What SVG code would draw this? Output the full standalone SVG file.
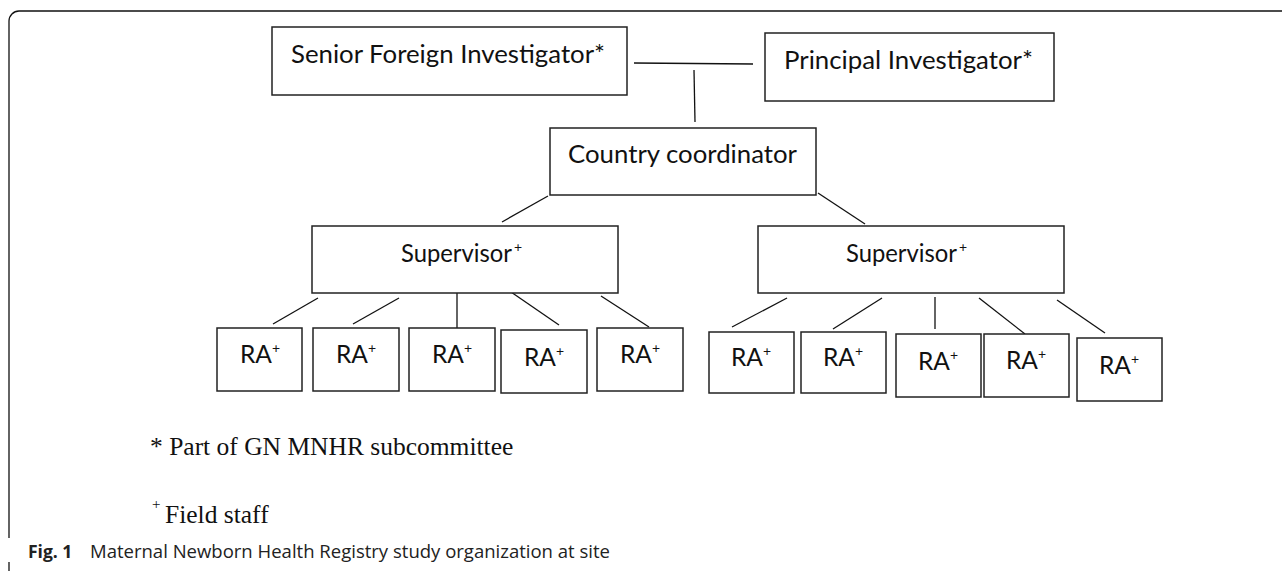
<svg xmlns="http://www.w3.org/2000/svg" width="1282" height="571" viewBox="0 0 1282 571">
<style>
.box{fill:#fff;stroke:#222;stroke-width:1.5}
.lbl{font-family:Lato,"Open Sans","Liberation Sans",sans-serif;font-size:24.5px;fill:#111}
.sup{font-family:Lato,"Open Sans","Liberation Sans",sans-serif;font-size:14px;fill:#111}
.ln{stroke:#111;stroke-width:1.3;fill:none}
.fn{font-family:"Liberation Serif","Times New Roman",serif;font-size:25.5px;fill:#111}
.cap{font-family:"Open Sans","Noto Sans","Liberation Sans",sans-serif;font-size:17.5px;fill:#222}
</style>
<rect width="1282" height="571" fill="#fff"/>
<g id="frame" class="ln" stroke-width="1.5">
<path d="M9 538 V21 A10 10 0 0 1 19 11 H1282"/>
<path d="M9 562 V571"/>
</g>
<g id="connectors" class="ln">
<line x1="634" y1="63" x2="753" y2="64"/>
<line x1="694" y1="70" x2="695" y2="122"/>
<line x1="548" y1="196" x2="502" y2="222"/>
<line x1="818" y1="193" x2="865" y2="224"/>
<line x1="318" y1="298" x2="273" y2="324"/>
<line x1="399" y1="298" x2="353" y2="324"/>
<line x1="457" y1="291" x2="457" y2="328"/>
<line x1="511" y1="292" x2="559" y2="325"/>
<line x1="601" y1="296" x2="649" y2="327"/>
<line x1="787" y1="298" x2="732" y2="327"/>
<line x1="882" y1="298" x2="833" y2="329"/>
<line x1="935" y1="297" x2="935" y2="329"/>
<line x1="979" y1="298" x2="1025" y2="334"/>
<line x1="1057" y1="300" x2="1105" y2="333"/>
</g>
<g id="senior"><rect class="box" x="272" y="27" width="355" height="68"/><text class="lbl" x="291" y="63" textLength="314" lengthAdjust="spacingAndGlyphs">Senior Foreign Investigator*</text></g>
<g id="principal"><rect class="box" x="765" y="33" width="289" height="68"/><text class="lbl" x="784" y="69" textLength="249" lengthAdjust="spacingAndGlyphs">Principal Investigator*</text></g>
<g id="country"><rect class="box" x="550" y="128" width="266" height="67"/><text class="lbl" x="568" y="163" textLength="229" lengthAdjust="spacingAndGlyphs">Country coordinator</text></g>
<g id="supervisor1"><rect class="box" x="312" y="226" width="306" height="67"/><text class="lbl" x="401" y="262" textLength="111" lengthAdjust="spacingAndGlyphs">Supervisor</text><text class="sup" x="514" y="252">+</text></g>
<g id="supervisor2"><rect class="box" x="758" y="226" width="306" height="67"/><text class="lbl" x="846" y="262" textLength="111" lengthAdjust="spacingAndGlyphs">Supervisor</text><text class="sup" x="959" y="252">+</text></g>
<g id="ra1"><rect class="box" x="217" y="328" width="85" height="63"/><text class="lbl" x="260" y="363" text-anchor="middle">RA<tspan class="sup" dy="-10">+</tspan></text></g>
<g id="ra2"><rect class="box" x="313" y="328" width="86" height="63"/><text class="lbl" x="356" y="363" text-anchor="middle">RA<tspan class="sup" dy="-10">+</tspan></text></g>
<g id="ra3"><rect class="box" x="409" y="328" width="86" height="63"/><text class="lbl" x="452" y="363" text-anchor="middle">RA<tspan class="sup" dy="-10">+</tspan></text></g>
<g id="ra4"><rect class="box" x="501" y="330" width="86" height="63"/><text class="lbl" x="544" y="366" text-anchor="middle">RA<tspan class="sup" dy="-10">+</tspan></text></g>
<g id="ra5"><rect class="box" x="597" y="328" width="86" height="63"/><text class="lbl" x="640" y="363" text-anchor="middle">RA<tspan class="sup" dy="-10">+</tspan></text></g>
<g id="ra6"><rect class="box" x="709" y="332" width="85" height="61"/><text class="lbl" x="751" y="366" text-anchor="middle">RA<tspan class="sup" dy="-10">+</tspan></text></g>
<g id="ra7"><rect class="box" x="801" y="332" width="85" height="61"/><text class="lbl" x="843" y="366" text-anchor="middle">RA<tspan class="sup" dy="-10">+</tspan></text></g>
<g id="ra8"><rect class="box" x="896" y="334" width="85" height="63"/><text class="lbl" x="938" y="370" text-anchor="middle">RA<tspan class="sup" dy="-10">+</tspan></text></g>
<g id="ra9"><rect class="box" x="984" y="334" width="85" height="63"/><text class="lbl" x="1026" y="369" text-anchor="middle">RA<tspan class="sup" dy="-10">+</tspan></text></g>
<g id="ra10"><rect class="box" x="1077" y="338" width="85" height="63"/><text class="lbl" x="1119" y="374" text-anchor="middle">RA<tspan class="sup" dy="-10">+</tspan></text></g>
<g id="footnotes">
<text class="fn" x="150" y="455">* Part of GN MNHR subcommittee</text>
<text class="fn" x="152" y="523"><tspan font-size="15" dy="-14">+</tspan><tspan x="165" dy="14">Field staff</tspan></text>
</g>
<g id="caption">
<text class="cap" x="28" y="558"><tspan font-weight="bold">Fig. 1</tspan><tspan x="90" textLength="520" lengthAdjust="spacingAndGlyphs">Maternal Newborn Health Registry study organization at site</tspan></text>
</g>
</svg>
